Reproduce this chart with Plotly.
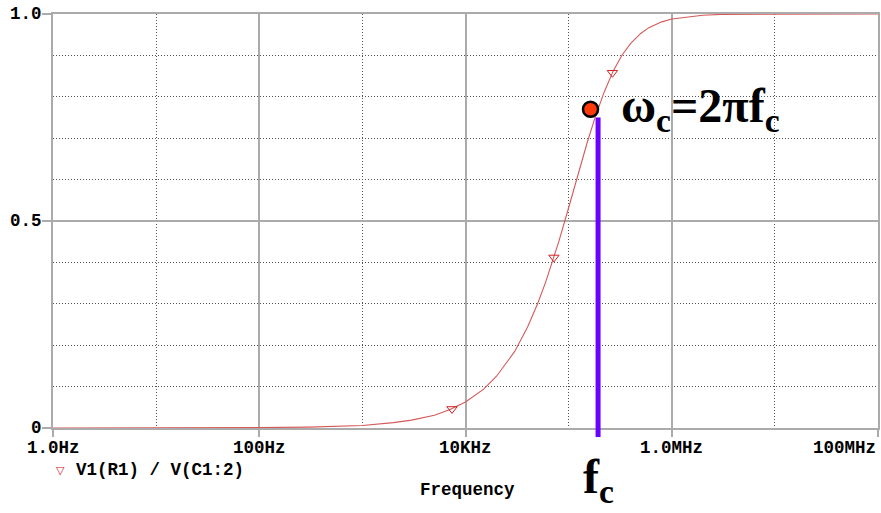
import math
import plotly.graph_objects as go

# Frequency response samples: |V1(R1) / V(C1:2)| versus frequency
freq_hz = [1, 10, 100, 300, 1e3, 2e3, 3e3, 5e3, 7e3, 1e4, 1.5e4, 2e4, 3e4, 4e4,
           5e4, 6e4, 7e4, 8e4, 1e5, 1.2e5, 1.5e5, 1.8e5, 2.2e5, 2.7e5, 3.3e5,
           4e5, 5e5, 6e5, 7e5, 8e5, 1e6, 1.5e6, 2e6, 3e6, 5e6, 1e7, 1e8]
gain = [0.000, 0.000, 0.001, 0.002, 0.006, 0.013, 0.019, 0.031, 0.044, 0.063,
        0.094, 0.125, 0.185, 0.244, 0.300, 0.353, 0.403, 0.449, 0.532, 0.602,
        0.686, 0.749, 0.810, 0.862, 0.901, 0.929, 0.953, 0.967, 0.975, 0.981,
        0.988, 0.994, 0.997, 0.999, 0.999, 1.000, 1.000]

# Trace symbols placed along the curve
marker_freq = [7.4e3, 7.2e4, 2.66e5]
marker_gain = [0.046, 0.412, 0.858]

# Cutoff annotation
fc_hz = 1.93e5
fc_line_top = 0.75
fc_dot_freq = 1.63e5
fc_dot_gain = 0.77
omega_label_freq = 3.05e5
omega_label_gain = 0.77

# Axis ticks
x_tick_vals = [1, 1e2, 1e4, 1e6, 1e8]
x_tick_text = ["1.0Hz", "100Hz", "10KHz", "1.0MHz", "100MHz"]
x_minor_vals = [10, 1e3, 1e5, 1e7]
y_tick_vals = [0, 0.5, 1.0]
y_tick_text = ["0", "0.5", "1.0"]
y_minor_vals = [0.1, 0.2, 0.3, 0.4, 0.6, 0.7, 0.8, 0.9]

MONO = "Liberation Mono"
SERIF = "Liberation Serif"
GRID = "#ababab"
DOTS = "#555555"
TRACE = "#d45a5a"
FS = 17.5

fig = go.Figure()

fig.add_trace(go.Scatter(
    x=freq_hz, y=gain, mode="lines",
    line=dict(color=TRACE, width=1.1),
    hoverinfo="skip", showlegend=False,
))
fig.add_trace(go.Scatter(
    x=marker_freq, y=marker_gain, mode="markers",
    marker=dict(symbol="triangle-down-open", size=9, color="#d02020",
                line=dict(width=1)),
    showlegend=False,
))

# Vertical bar marking the cutoff frequency (extends just below the axis)
fig.add_shape(type="line", xref="x", yref="paper",
              x0=fc_hz, x1=fc_hz, y0=-0.022, y1=fc_line_top,
              line=dict(color="#6a00ff", width=5), layer="above")

fig.add_trace(go.Scatter(
    x=[fc_dot_freq], y=[fc_dot_gain], mode="markers",
    marker=dict(symbol="circle", size=15, color="#ff3a0a",
                line=dict(color="black", width=2.5)),
    cliponaxis=False, showlegend=False,
))

tick_font = dict(family=MONO, size=FS, color="black", weight="bold")
annotations = []

# x tick labels (log axis: annotation x is given in log10 units); the last
# one is right-aligned so it stays inside the page
for i, (v, t) in enumerate(zip(x_tick_vals, x_tick_text)):
    last = i == len(x_tick_vals) - 1
    annotations.append(dict(
        x=math.log10(v), xref="x", y=0, yref="paper", yshift=-20,
        text=t, showarrow=False, xanchor="right" if last else "center",
        yanchor="middle", font=tick_font))

# y tick labels, right-aligned against the tick marks
for v, t in zip(y_tick_vals, y_tick_text):
    annotations.append(dict(
        x=0, xref="paper", y=v, yref="y", xshift=-9,
        text=t, showarrow=False, xanchor="right", yanchor="middle",
        font=tick_font))

annotations += [
    dict(x=0, xref="paper", y=0, yref="paper", yshift=-42, xshift=7,
         text="▽", showarrow=False, xanchor="center", yanchor="middle",
         font=dict(family="DejaVu Sans", size=11, color="#d02020")),
    dict(x=0, xref="paper", y=0, yref="paper", yshift=-42, xshift=21,
         text="V1(R1) / V(C1:2)", showarrow=False, xanchor="left",
         yanchor="middle", font=tick_font),
    dict(x=0.502, xref="paper", y=0, yref="paper", yshift=-62,
         text="Frequency", showarrow=False, xanchor="center", yanchor="middle",
         font=tick_font),
    dict(x=math.log10(omega_label_freq), xref="x", y=omega_label_gain, yref="y",
         text="<b>ω<sub>c</sub>=2πf<sub>c</sub></b>", showarrow=False,
         xanchor="left", yanchor="middle",
         font=dict(family=SERIF, size=48, color="black")),
    dict(x=math.log10(fc_hz), xref="x", y=0, yref="paper", yshift=-52,
         text="<b>f<sub>c</sub></b>", showarrow=False,
         xanchor="center", yanchor="middle",
         font=dict(family=SERIF, size=48, color="black")),
]

fig.update_layout(
    width=881, height=513,
    margin=dict(l=53, r=1, t=14, b=85),
    paper_bgcolor="white", plot_bgcolor="white",
    annotations=annotations,
    xaxis=dict(
        type="log", range=[0, 8],
        tickmode="array", tickvals=x_tick_vals, showticklabels=False,
        ticks="outside", ticklen=7, tickwidth=2, tickcolor=GRID,
        showgrid=True, gridcolor=GRID, gridwidth=2,
        minor=dict(tickmode="array", tickvals=x_minor_vals, ticks="",
                   showgrid=True, gridcolor=DOTS, gridwidth=1, griddash="1px,2px"),
        showline=True, linecolor=GRID, linewidth=2, mirror=True,
        zeroline=False,
    ),
    yaxis=dict(
        range=[0, 1],
        tickmode="array", tickvals=y_tick_vals, showticklabels=False,
        ticks="outside", ticklen=9, tickwidth=2, tickcolor=GRID,
        showgrid=True, gridcolor=GRID, gridwidth=2,
        minor=dict(tickmode="array", tickvals=y_minor_vals, ticks="",
                   showgrid=True, gridcolor=DOTS, gridwidth=1, griddash="1px,2px"),
        showline=True, linecolor=GRID, linewidth=2, mirror=True,
        zeroline=False,
    ),
)

fig.write_html("out.html")
